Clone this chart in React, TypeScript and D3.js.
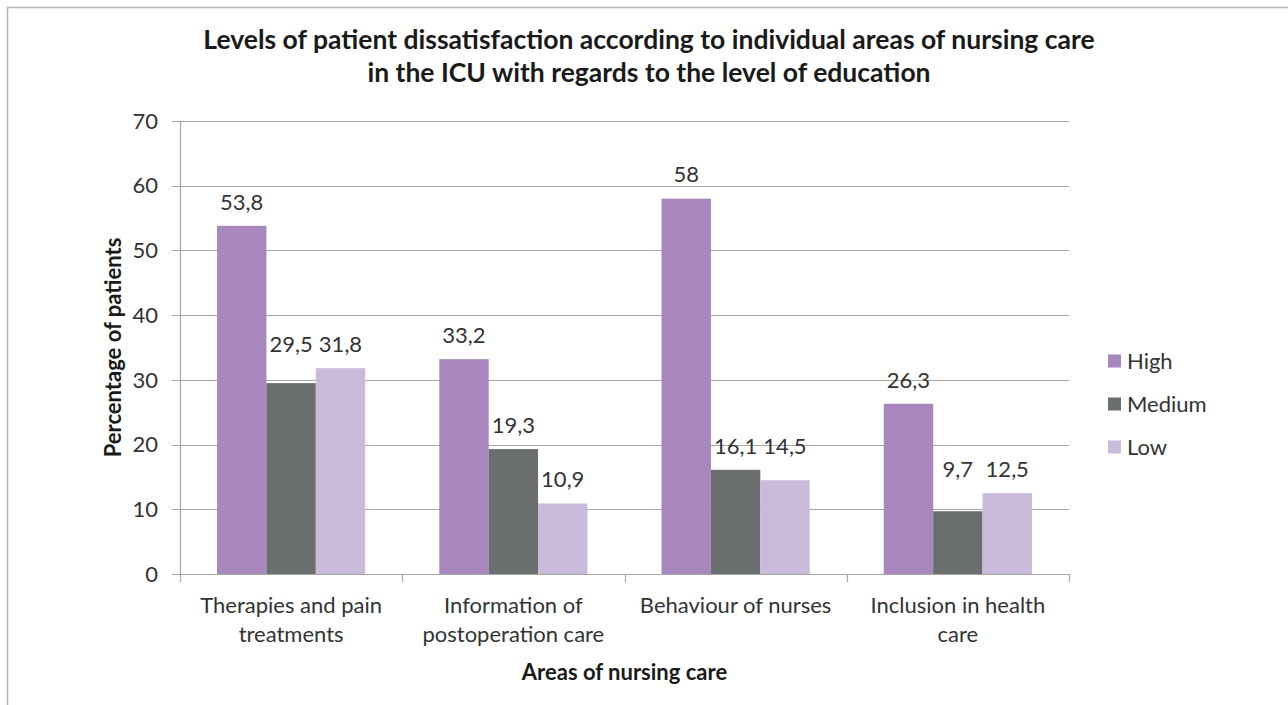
import React, { useRef, useEffect } from 'react';
import * as d3 from 'd3';

const categories = [
  ['Therapies and pain', 'treatments'],
  ['Information of', 'postoperation care'],
  ['Behaviour of nurses'],
  ['Inclusion in health', 'care'],
];
const seriesNames = ['High', 'Medium', 'Low'];
const highValues = [53.8, 33.2, 58, 26.3];
const mediumValues = [29.5, 19.3, 16.1, 9.7];
const lowValues = [31.8, 10.9, 14.5, 12.5];
const yTicks = [0, 10, 20, 30, 40, 50, 60, 70];
const colors = ['#a886be', '#6b6e6f', '#cbbbdb'];

const App = () => {
  const svgRef = useRef<SVGSVGElement>(null);

  useEffect(() => {
    const width = 1288;
    const height = 705;
    const margin = { top: 121, right: 219, bottom: 131, left: 180 };
    const font = 'Lato, "Open Sans", sans-serif';
    const fs = 22;

    const svg = d3.select(svgRef.current)
      .attr('width', width)
      .attr('height', height)
      .style('font-family', font);
    svg.selectAll('*').remove();

    svg.append('rect')
      .attr('x', 7.5)
      .attr('y', 7.5)
      .attr('width', width + 20)
      .attr('height', height + 20)
      .attr('fill', '#fff')
      .attr('stroke', '#b5b5b5')
      .attr('stroke-width', 1.5);

    const keys = categories.map((c, i) => String(i));
    const x0 = d3.scaleBand()
      .domain(keys)
      .range([margin.left, width - margin.right]);
    const x1 = d3.scaleBand()
      .domain(seriesNames)
      .range([0, x0.bandwidth()])
      .paddingInner(0)
      .paddingOuter(0.75);
    const y = d3.scaleLinear()
      .domain([0, 70])
      .range([height - margin.bottom, margin.top]);

    // gridlines
    svg.append('g')
      .selectAll('line')
      .data(yTicks)
      .enter()
      .append('line')
      .attr('x1', margin.left - 8)
      .attr('x2', width - margin.right)
      .attr('y1', d => Math.round(y(d)) + 0.5)
      .attr('y2', d => Math.round(y(d)) + 0.5)
      .attr('stroke', '#a6a6a6')
      .attr('stroke-width', 1.2);

    // y axis line
    svg.append('line')
      .attr('x1', margin.left + 0.5)
      .attr('x2', margin.left + 0.5)
      .attr('y1', y(70))
      .attr('y2', y(0))
      .attr('stroke', '#a6a6a6')
      .attr('stroke-width', 1.2);

    // x axis ticks between categories
    const boundaries = keys.map(k => x0(k) as number).concat([width - margin.right]);
    svg.append('g')
      .selectAll('line')
      .data(boundaries)
      .enter()
      .append('line')
      .attr('x1', d => Math.round(d) + 0.5)
      .attr('x2', d => Math.round(d) + 0.5)
      .attr('y1', y(0))
      .attr('y2', y(0) + 8)
      .attr('stroke', '#a6a6a6')
      .attr('stroke-width', 1.2);

    // y tick labels
    svg.append('g')
      .selectAll('text')
      .data(yTicks)
      .enter()
      .append('text')
      .attr('x', margin.left - 22)
      .attr('y', d => y(d))
      .attr('dy', '0.35em')
      .attr('text-anchor', 'end')
      .attr('font-size', fs)
      .attr('fill', '#333')
      .text(d => d);

    const seriesData = [highValues, mediumValues, lowValues];
    const bars = seriesNames.flatMap((s, si) =>
      seriesData[si].map((v, ci) => ({ s, si, ci, v }))
    );

    svg.append('g')
      .selectAll('rect')
      .data(bars)
      .enter()
      .append('rect')
      .attr('x', d => (x0(String(d.ci)) as number) + (x1(d.s) as number))
      .attr('y', d => y(d.v))
      .attr('width', x1.bandwidth())
      .attr('height', d => y(0) - y(d.v))
      .attr('fill', d => colors[d.si]);

    // data labels; medium/low labels close in height share the higher position
    const labelY = (d: { si: number; ci: number; v: number }) => {
      if (d.si === 0) return y(d.v) - 24;
      const m = mediumValues[d.ci];
      const l = lowValues[d.ci];
      if (Math.abs(y(m) - y(l)) < 30) return y(Math.max(m, l)) - 24;
      return y(d.v) - 24;
    };
    svg.append('g')
      .selectAll('text')
      .data(bars)
      .enter()
      .append('text')
      .attr('x', d => (x0(String(d.ci)) as number) + (x1(d.s) as number) + x1.bandwidth() / 2)
      .attr('y', d => labelY(d))
      .attr('dy', '0.35em')
      .attr('text-anchor', 'middle')
      .attr('font-size', fs)
      .attr('fill', '#333')
      .text(d => String(d.v).replace('.', ','));

    // category labels
    const catG = svg.append('g');
    categories.forEach((lines, i) => {
      const cx = (x0(String(i)) as number) + x0.bandwidth() / 2;
      lines.forEach((line, li) => {
        catG.append('text')
          .attr('x', cx)
          .attr('y', 605 + li * 29)
          .attr('dy', '0.35em')
          .attr('text-anchor', 'middle')
          .attr('font-size', fs)
          .attr('fill', '#333')
          .text(line);
      });
    });

    // titles
    const titleLines = [
      'Levels of patient dissatisfaction according to individual areas of nursing care',
      'in the ICU with regards to the level of education',
    ];
    titleLines.forEach((t, i) => {
      svg.append('text')
        .attr('x', 649)
        .attr('y', 40 + i * 33)
        .attr('dy', '0.35em')
        .attr('text-anchor', 'middle')
        .attr('font-size', 26.5)
        .attr('font-weight', 'bold')
        .attr('fill', '#1a1a1a')
        .text(t);
    });

    svg.append('text')
      .attr('x', (margin.left + width - margin.right) / 2)
      .attr('y', 672)
      .attr('dy', '0.35em')
      .attr('text-anchor', 'middle')
      .attr('font-size', fs)
      .attr('font-weight', 'bold')
      .attr('fill', '#1a1a1a')
      .text('Areas of nursing care');

    svg.append('text')
      .attr('transform', `translate(113,${(y(0) + y(70)) / 2}) rotate(-90)`)
      .attr('dy', '0.35em')
      .attr('text-anchor', 'middle')
      .attr('font-size', fs)
      .attr('font-weight', 'bold')
      .attr('fill', '#1a1a1a')
      .text('Percentage of patients');

    // legend
    const legend = svg.append('g');
    seriesNames.forEach((s, i) => {
      const ly = 361 + i * 43;
      legend.append('rect')
        .attr('x', 1108)
        .attr('y', ly - 6.5)
        .attr('width', 13)
        .attr('height', 13)
        .attr('fill', colors[i]);
      legend.append('text')
        .attr('x', 1127)
        .attr('y', ly)
        .attr('dy', '0.35em')
        .attr('font-size', fs)
        .attr('fill', '#333')
        .text(s);
    });
  }, []);

  return (
    <div style={{ position: 'absolute', left: 0, top: 0 }}>
      <svg ref={svgRef}></svg>
    </div>
  );
};

export default App;
